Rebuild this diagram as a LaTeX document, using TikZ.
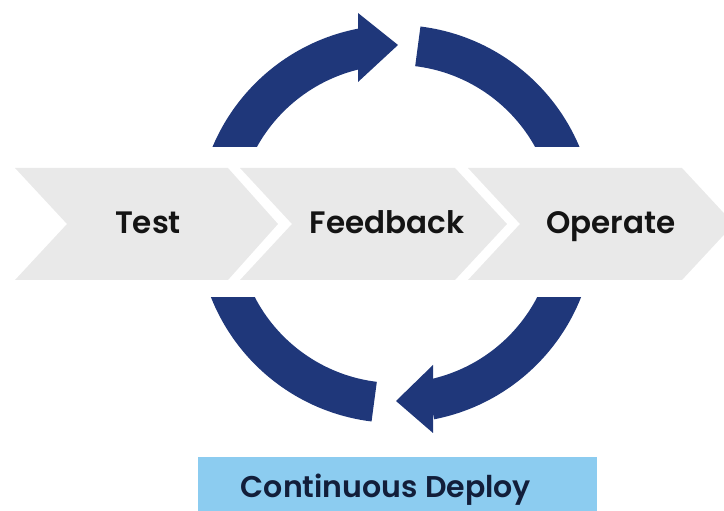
\documentclass[tikz,border=0pt]{standalone}
\usepackage{fontspec}
\newfontfamily\lbl{Poppins SemiBold}
\definecolor{navy}{RGB}{31,55,122}
\definecolor{chev}{RGB}{233,233,233}
\definecolor{skyb}{RGB}{140,204,240}
\definecolor{txt}{RGB}{20,20,20}
\definecolor{txtb}{RGB}{18,30,58}
\begin{document}
\begin{tikzpicture}[x=1pt,y=1pt,
  chevron/.style={fill=chev, draw=none},
  arcband/.style={draw=navy, line width=40pt},
  headtri/.style={fill=navy, draw=none},
  lab/.style={font=\lbl\fontsize{31}{36}\selectfont, text=txt, anchor=base, inner sep=0pt}]
\useasboundingbox (0,0) rectangle (724,511);
\coordinate (c) at (396,287);
\begin{scope}
\clip (0,0) rectangle (724,511);
% chevrons
\fill[chevron] (15,343) -- (228,343) -- (278,287) -- (228,231) -- (15,231) -- (67,287) -- cycle;
\fill[chevron] (240,343) -- (455,343) -- (507,287) -- (455,231) -- (240,231) -- (292,287) -- cycle;
\fill[chevron] (468,343) -- (682,343) -- (734,287) -- (682,231) -- (468,231) -- (520,287) -- cycle;
\end{scope}
% top arcs
\begin{scope}
\clip (0,364) rectangle (724,511);
\draw[arcband] (c) ++(168:179) arc[start angle=168, end angle=101, radius=179];
\draw[arcband] (c) ++(83:179) arc[start angle=83, end angle=12, radius=179];
\end{scope}
\fill[headtri] (358,498) -- (398,466) -- (358,429) -- cycle;
% bottom arcs
\begin{scope}
\clip (0,0) rectangle (724,213);
\draw[arcband] (c) ++(192:179) arc[start angle=192, end angle=263, radius=179];
\draw[arcband] (c) ++(348:179) arc[start angle=348, end angle=281, radius=179];
\end{scope}
\fill[headtri] (433,146) -- (396,110) -- (433,78) -- cycle;
% labels
\node[lab] (test) at (148,277) {Test};
\node[lab] (feed) at (387,277) {Feedback};
\node[lab] (oper) at (611,277) {Operate};
% deploy box
\node[fill=skyb, minimum width=399pt, minimum height=60pt, inner sep=0pt, anchor=south west] (box) at (198,-6) {};
\node[lab, text=txtb, font=\lbl\fontsize{30}{36}\selectfont] (deploy) at (386,13) {Continuous Deploy};
\end{tikzpicture}
\end{document}
